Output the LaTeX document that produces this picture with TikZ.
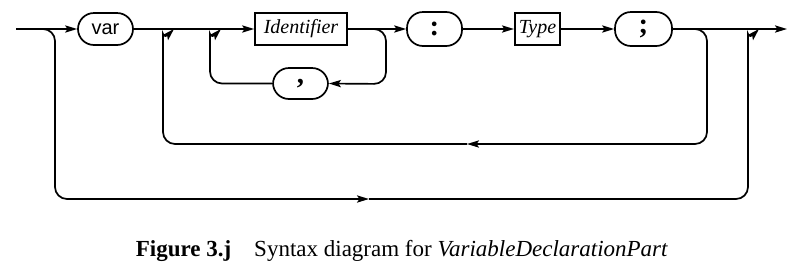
\documentclass[tikz,border=0pt]{standalone}
\usepackage{fontspec}
\setmainfont{Liberation Serif}
\newfontfamily\varfont{Liberation Sans}
\usetikzlibrary{arrows.meta}

\tikzset{
  term/.style={draw,rounded corners=8pt,minimum width=27.5pt,minimum height=16pt,inner sep=0pt},
  nonterm/.style={draw,minimum height=16pt,inner sep=2pt,font=\itshape},
  punct/.style={font=\Large\bfseries}
}

\begin{document}
\begin{tikzpicture}[x=0.5pt,y=-0.5pt,line width=0.85pt,>={Stealth[length=6pt,width=3.6pt,inset=1.2pt]}]
			\useasboundingbox (0,0) rectangle (796,269);
			% boxes on the main line
			\node[term,font=\varfont] (var) at (105.5,29) {var};
			\node[nonterm,minimum width=46pt] (ident) at (301,29) {Identifier};
			\node[term,punct,minimum height=17pt] (colon) at (434.5,29) {:};
			\node[nonterm,minimum width=22.5pt] (type) at (537.5,29) {Type};
			\node[term,punct,minimum width=28.5pt,minimum height=17pt] (semi) at (643.5,29) {;};
			\node[term,punct,minimum height=15.5pt] (comma) at (300.5,83.5) {,};
			\coordinate (in) at (16,29);
			\coordinate (out) at (787,29);
			% main line
			\draw[->] (in)--(var);
			\draw[->] (var)--(ident);
			\draw[->] (ident)--(colon);
			\draw[->] (colon)--(type);
			\draw[->] (type)--(semi);
			\draw[->] (semi)--(out);
			% comma loop
			\coordinate (c0) at (356,29);
			\coordinate (c1) at (210,46);
			\coordinate (c2) at (221,29);
			\draw[->,rounded corners=6pt] (c0)-|(386,84)--(comma.east);
			\draw[->,rounded corners=6pt] (comma.west)-|(c1) to[out=90,in=-135] (c2);
			% semicolon loop
			\coordinate (s0) at (684,29);
			\coordinate (s1) at (467,144);
			\coordinate (s2) at (163,46);
			\coordinate (s3) at (174,29);
			\draw[->,rounded corners=6pt] (s0)-|(707,144)--(s1);
			\draw[->,rounded corners=6pt] (s1)-|(s2) to[out=90,in=-135] (s3);
			% empty part
			\coordinate (e0) at (40,29);
			\coordinate (e1) at (369,199);
			\coordinate (e2) at (748,46);
			\coordinate (e3) at (759,29);
			\draw[->,rounded corners=6pt] (e0)-|(55,199)--(e1);
			\draw[->,rounded corners=6pt] (e1)-|(e2) to[out=90,in=-135] (e3);
			% caption
			\node[anchor=base west,inner sep=0pt,font=\fontsize{11.5}{13}\selectfont] (cap) at (135,256) {\textbf{Figure 3.j}\quad Syntax diagram for \textit{VariableDeclarationPart}};
		\end{tikzpicture}
\end{document}
